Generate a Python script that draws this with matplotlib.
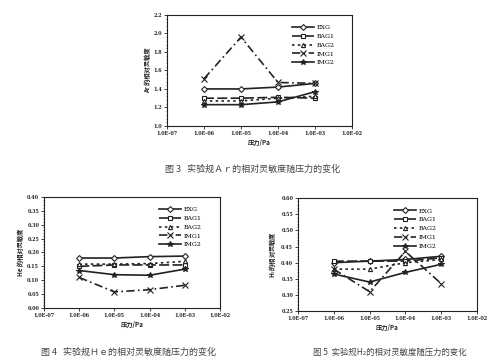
import matplotlib
matplotlib.use('Agg')
import matplotlib.pyplot as plt
from matplotlib.ticker import FixedLocator, MultipleLocator

plt.rcParams['font.family'] = ['Noto Sans CJK SC', 'DejaVu Sans']

pressure = [1e-6, 1e-5, 1e-4, 1e-3]
series_names = ['EXG', 'BAG1', 'BAG2', 'IMG1', 'IMG2']

# Ar
ar_exg = [1.40, 1.40, 1.42, 1.46]
ar_bag1 = [1.30, 1.30, 1.31, 1.30]
ar_bag2 = [1.27, 1.27, 1.30, 1.32]
ar_img1 = [1.51, 1.96, 1.47, 1.46]
ar_img2 = [1.23, 1.23, 1.26, 1.37]

# He
he_exg = [0.180, 0.180, 0.185, 0.187]
he_bag1 = [0.150, 0.155, 0.155, 0.155]
he_bag2 = [0.158, 0.158, 0.160, 0.168]
he_img1 = [0.110, 0.058, 0.066, 0.082]
he_img2 = [0.135, 0.120, 0.118, 0.140]

# H2
h2_exg = [0.400, 0.405, 0.410, 0.420]
h2_bag1 = [0.405, 0.405, 0.405, 0.415]
h2_bag2 = [0.380, 0.380, 0.400, 0.410]
h2_img1 = [0.380, 0.310, 0.435, 0.335]
h2_img2 = [0.365, 0.340, 0.370, 0.395]

xtick_labels = ['1.0E-07', '1.0E-06', '1.0E-05', '1.0E-04', '1.0E-03', '1.0E-02']

styles = [
    dict(ls='-', marker='D', ms=3, mfc='white'),
    dict(ls=(0, (6, 2)), marker='s', ms=3.5, mfc='white'),
    dict(ls=(0, (1.5, 2)), marker='^', ms=3, mfc='white'),
    dict(ls=(0, (5, 2, 1, 2)), marker='x', ms=5),
    dict(ls='-', marker='*', ms=4),
]

ink = '#222222'


def draw(ax, data, ylim, ystep, yfmt, ylabel, caption, cap_x, cap_y, leg_x, cap_size=6.5):
    for vals, name, st in zip(data, series_names, styles):
        ax.plot(pressure, vals, color=ink, lw=1.2, mew=0.8, label=name, **st)
    ax.set_xscale('log')
    ax.set_xlim(1e-7, 1e-2)
    ax.xaxis.set_major_locator(FixedLocator([1e-7, 1e-6, 1e-5, 1e-4, 1e-3, 1e-2]))
    ax.xaxis.set_minor_locator(FixedLocator([]))
    ax.set_xticklabels(xtick_labels)
    ax.set_ylim(*ylim)
    ax.yaxis.set_major_locator(MultipleLocator(ystep))
    ax.yaxis.set_minor_locator(MultipleLocator(ystep / 5))
    ax.yaxis.set_major_formatter(plt.FormatStrFormatter(yfmt))
    ax.tick_params(labelsize=3.5, length=2, width=0.6, pad=1.5, colors=ink)
    ax.tick_params(which='minor', length=1, width=0.4)
    for lab in ax.get_xticklabels() + ax.get_yticklabels():
        lab.set_fontweight('bold')
        lab.set_family('DejaVu Serif')
    for sp in ax.spines.values():
        sp.set_linewidth(0.8)
        sp.set_color(ink)
    ax.set_xlabel('压力/Pa', fontsize=4.5, fontweight='bold', labelpad=2, color=ink)
    ax.set_ylabel(ylabel, fontsize=4.5, fontweight='bold', labelpad=2, color=ink)
    ax.legend(loc='upper right', bbox_to_anchor=(leg_x, 0.95), frameon=False,
              handlelength=3.6, labelspacing=0.55, handletextpad=0.4,
              borderaxespad=0.3, prop={'family': 'DejaVu Serif', 'size': 4.5})
    fig.text(cap_x, cap_y, caption, fontsize=cap_size, color='#444444', va='center')


fig = plt.figure(figsize=(5.0, 3.63), dpi=100)

ax1 = fig.add_axes([0.334, 0.653, 0.37, 0.306])
draw(ax1, [ar_exg, ar_bag1, ar_bag2, ar_img1, ar_img2], (1.0, 2.2), 0.2, '%.1f',
     'Ar 的相对灵敏度', '图 3   实验规Ａｒ的相对灵敏度随压力的变化', 0.33, 1 - 169 / 363, 0.93)

ax2 = fig.add_axes([0.088, 0.1515, 0.352, 0.306])
draw(ax2, [he_exg, he_bag1, he_bag2, he_img1, he_img2], (0.0, 0.40), 0.05, '%.2f',
     'He 的相对灵敏度', '图 4   实验规Ｈｅ的相对灵敏度随压力的变化', 0.082, 1 - 352 / 363, 0.92)

ax3 = fig.add_axes([0.596, 0.143, 0.358, 0.311])
draw(ax3, [h2_exg, h2_bag1, h2_bag2, h2_img1, h2_img2], (0.25, 0.60), 0.05, '%.2f',
     'H$_2$的相对灵敏度', '图 5  实验规H₂的相对灵敏度随压力的变化', 0.626, 1 - 352 / 363, 0.80,
     cap_size=6.0)

fig.savefig('out.png', dpi=100)
